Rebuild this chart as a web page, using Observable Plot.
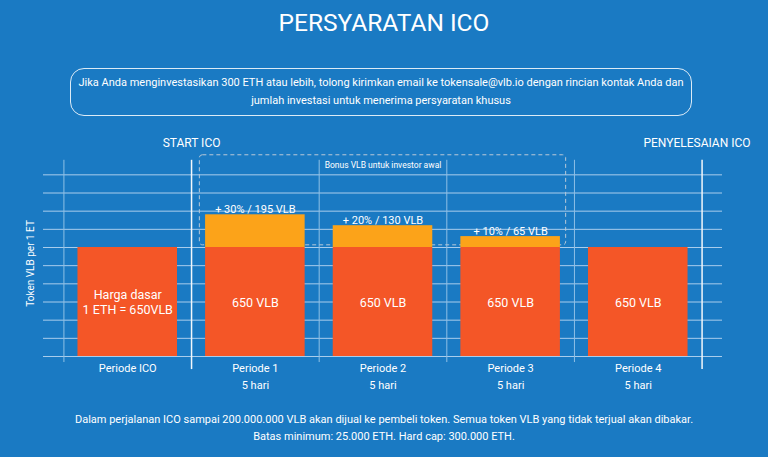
<!DOCTYPE html>
<html><head><meta charset="utf-8">
<script src="https://cdn.jsdelivr.net/npm/d3@7"></script>
<script src="https://cdn.jsdelivr.net/npm/@observablehq/plot@0.6"></script>
<style>
html,body{margin:0;padding:0}
body{width:768px;height:457px;background:#1a7ac3;font-family:Roboto,sans-serif;color:#fff;position:relative;overflow:hidden}
#title{position:absolute;top:6px;left:0;width:768px;text-align:center;font-size:24.5px;line-height:34px}
#info{position:absolute;left:70px;top:68px;width:620px;height:46px;border:1px solid rgba(255,255,255,.85);border-radius:14px;display:flex;align-items:center;justify-content:center;text-align:center;font-size:11px;line-height:18px}
#chart{position:absolute;left:0;top:130px}
#foot{position:absolute;top:411px;left:0;width:768px;text-align:center;font-size:11px;line-height:17px}
</style></head>
<body>
<div id="title">PERSYARATAN ICO</div>
<div id="info">Jika Anda menginvestasikan 300 ETH atau lebih, tolong kirimkan email ke tokensale@vlb.io dengan rincian kontak Anda dan<br>jumlah investasi untuk menerima persyaratan khusus</div>
<div id="chart"></div>
<div id="foot">Dalam perjalanan ICO sampai 200.000.000 VLB akan dijual ke pembeli token. Semua token VLB yang tidak terjual akan dibakar.<br>Batas minimum: 25.000 ETH. Hard cap: 300.000 ETH.</div>
<script>
const periods = ["Periode ICO", "Periode 1", "Periode 2", "Periode 3", "Periode 4"];
const durations = ["", "5 hari", "5 hari", "5 hari", "5 hari"];
const baseTokens = [650, 650, 650, 650, 650];
const bonusTokens = [0, 195, 130, 65, 0];
const bonusLabels = ["", "+ 30% / 195 VLB", "+ 20% / 130 VLB", "+ 10% / 65 VLB", ""];
const baseLabels = ["Harga dasar\n1 ETH = 650VLB", "650 VLB", "650 VLB", "650 VLB", "650 VLB"];
const gridStep = 650 / 6;
const gridValues = d3.range(0, 11).map(k => k * gridStep);
const phaseLabels = ["START ICO", "PENYELESAIAN ICO"];
const bonusBoxLabel = "Bonus VLB untuk investor awal";
const yAxisLabel = "Token VLB per 1 ET";

const rows = periods.map((p, i) => ({
  i, period: p, dur: durations[i], base: baseTokens[i], bonus: bonusTokens[i],
  bonusLabel: bonusLabels[i], baseLabel: baseLabels[i],
  cat: durations[i] ? p + "\n" + durations[i] : p
}));
const bonusRows = rows.filter(d => d.bonus > 0);

const white = "#ffffff";
const plot = Plot.plot({
  width: 768, height: 270,
  marginLeft: 43, marginRight: 46, marginTop: 8, marginBottom: 44,
  x: {domain: [-0.16, 5.16], axis: null},
  y: {domain: [0, 1300], axis: null},
  style: {background: "transparent", color: white, fontFamily: "Roboto, sans-serif", overflow: "visible"},
  marks: [
    Plot.ruleY(gridValues, {stroke: "#a9cdec", strokeWidth: 1}),
    Plot.ruleX([0, 2, 3, 4], {y1: -36, y2: 1170, stroke: "#8fc0e6", strokeWidth: 1}),
    Plot.ruleX([1, 5], {y1: -78, y2: 1170, stroke: "#f2f7fb", strokeWidth: 1.5}),
    Plot.rect([0], {x1: 1.065, x2: 3.935, y1: 663, y2: 1200, fill: "none", stroke: "#b8c9d8", strokeWidth: 1, strokeDasharray: "4,3", rx: 3}),
    Plot.text([bonusBoxLabel], {x: 2.5, y: 1141, text: d => d, fill: white, fontSize: 8.5}),
    Plot.rect(rows, {x1: d => d.i + 0.11, x2: d => d.i + 0.89, y1: 0, y2: "base", fill: "#f45627"}),
    Plot.rect(bonusRows, {x1: d => d.i + 0.11, x2: d => d.i + 0.89, y1: "base", y2: d => d.base + d.bonus, fill: "#fca319"}),
    Plot.text(rows, {x: d => d.i + 0.5, y: d => d.base / 2, text: "baseLabel", fill: white, fontSize: 12.5, lineHeight: 1.2}),
    Plot.text(bonusRows, {x: d => d.i + 0.5, y: d => d.base + d.bonus, text: "bonusLabel", fill: white, fontSize: 11, lineAnchor: "bottom", dy: -2}),
    Plot.text(rows, {x: d => d.i + 0.5, y: 0, text: "cat", fill: white, fontSize: 11, lineAnchor: "top", dy: 4, lineHeight: 1.5}),
    Plot.text([phaseLabels[0]], {x: 1, y: 1272, text: d => d, fill: white, fontSize: 12}),
    Plot.text([phaseLabels[1]], {x: 4.96, y: 1272, text: d => d, fill: white, fontSize: 12}),
    Plot.text([yAxisLabel], {x: -0.26, y: 555, text: d => d, fill: white, fontSize: 10, rotate: -90})
  ]
});
document.getElementById("chart").appendChild(plot);
</script>
</body></html>
